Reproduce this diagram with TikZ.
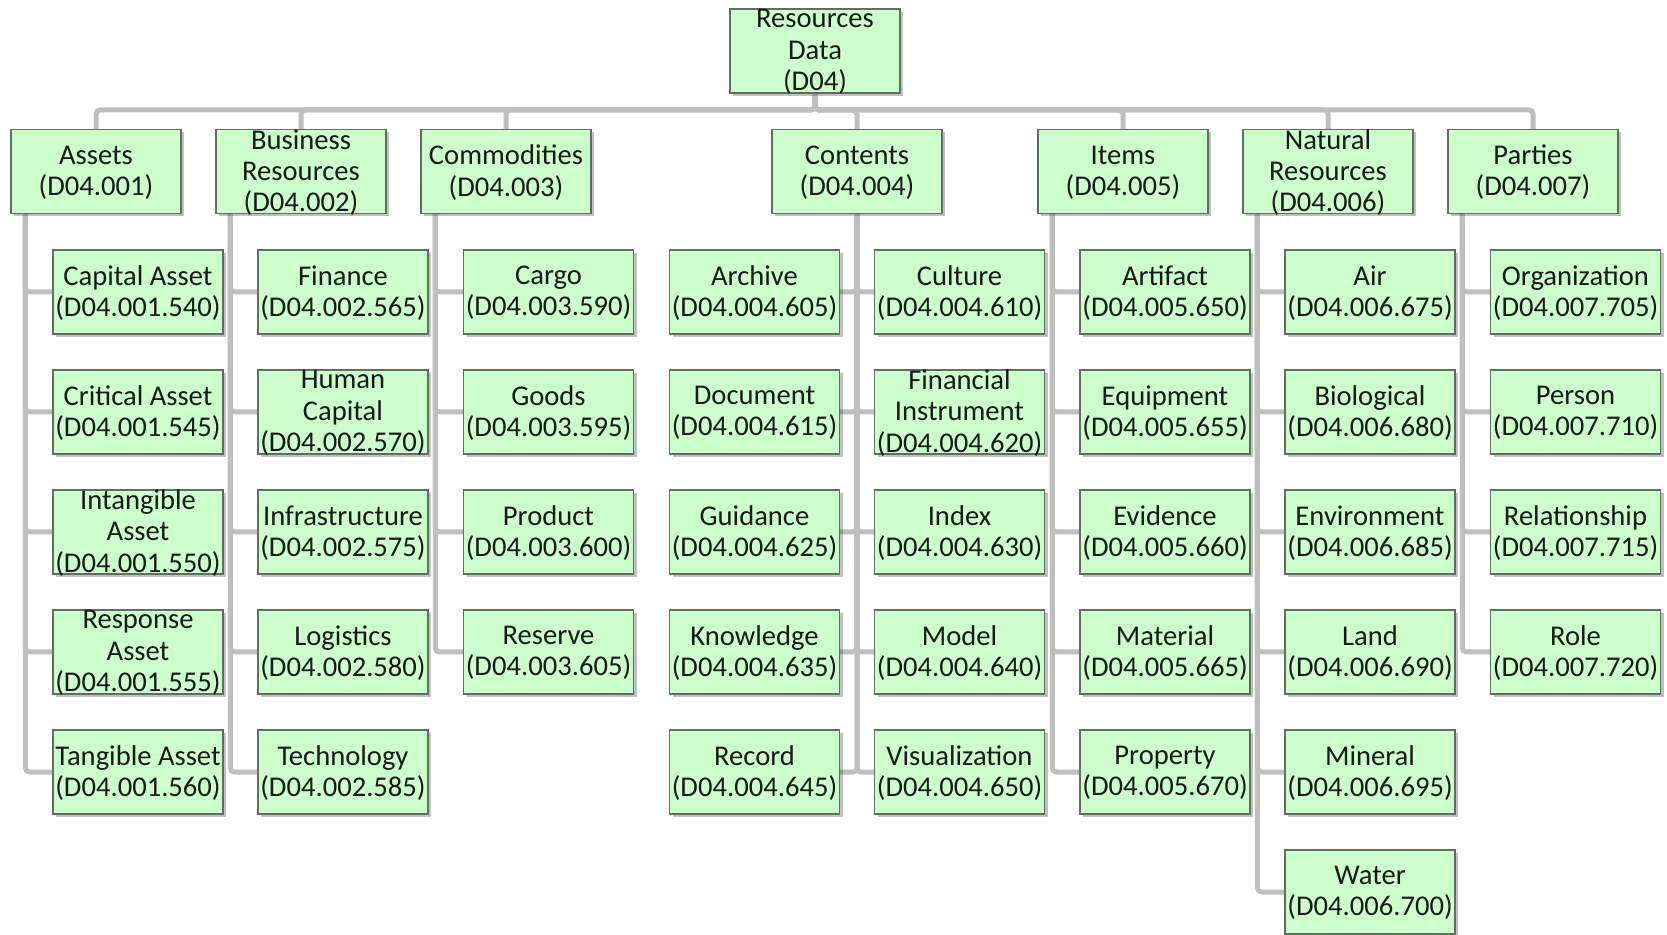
\documentclass[tikz,border=0pt]{standalone}
\usepackage{fontspec}
\setmainfont{Carlito}
\usetikzlibrary{shadows,backgrounds}
\definecolor{boxfill}{RGB}{204,255,204}
\definecolor{boxline}{RGB}{95,110,95}
\definecolor{linkgray}{RGB}{191,191,191}
\tikzset{
  box/.style={draw=boxline, line width=0.6pt, fill=boxfill,
    minimum width=85pt, minimum height=42pt, inner sep=0pt,
    drop shadow={shadow xshift=1.5pt, shadow yshift=-1.5pt, opacity=0.35, fill=black!70}},
  lbl/.style={inner sep=0pt, align=center, font=\fontsize{14.3}{15.6}\selectfont, text=black!90},
  link/.style={draw=linkgray, line width=2.5pt, rounded corners=2pt},
}
% box with its centred caption
\newcommand\orgbox[4]{%
  \node[box] (#1) at (#2,#3) {};
  \node[lbl] (#1-t) at ([yshift=-0.5pt]#1.center) {#4};}
\begin{document}
\begin{tikzpicture}[x=0.5pt, y=-0.5pt]
\useasboundingbox (0,0) rectangle (1667,935);

% root
\orgbox{root}{815}{51}{Resources\\Data\\(D04)}

% first level
\orgbox{assets}{96}{171.5}{Assets\\(D04.001)}
\orgbox{busres}{301}{171.5}{Business\\Resources\\(D04.002)}
\orgbox{commod}{506}{171.5}{Commodities\\(D04.003)}
\orgbox{contents}{857}{171.5}{Contents\\(D04.004)}
\orgbox{items}{1123}{171.5}{Items\\(D04.005)}
\orgbox{natres}{1328}{171.5}{Natural\\Resources\\(D04.006)}
\orgbox{parties}{1533}{171.5}{Parties\\(D04.007)}

% Assets
\orgbox{a1}{138}{292}{Capital Asset\\(D04.001.540)}
\orgbox{a2}{138}{412}{Critical Asset\\(D04.001.545)}
\orgbox{a3}{138}{532}{Intangible\\Asset\\(D04.001.550)}
\orgbox{a4}{138}{652}{Response\\Asset\\(D04.001.555)}
\orgbox{a5}{138}{772}{Tangible Asset\\(D04.001.560)}

% Business Resources
\orgbox{b1}{343}{292}{Finance\\(D04.002.565)}
\orgbox{b2}{343}{412}{Human\\Capital\\(D04.002.570)}
\orgbox{b3}{343}{532}{Infrastructure\\(D04.002.575)}
\orgbox{b4}{343}{652}{Logistics\\(D04.002.580)}
\orgbox{b5}{343}{772}{Technology\\(D04.002.585)}

% Commodities
\orgbox{c1}{548.5}{292}{Cargo\\(D04.003.590)}
\orgbox{c2}{548.5}{412}{Goods\\(D04.003.595)}
\orgbox{c3}{548.5}{532}{Product\\(D04.003.600)}
\orgbox{c4}{548.5}{652}{Reserve\\(D04.003.605)}

% Contents, left column
\orgbox{dl1}{754.5}{292}{Archive\\(D04.004.605)}
\orgbox{dl2}{754.5}{412}{Document\\(D04.004.615)}
\orgbox{dl3}{754.5}{532}{Guidance\\(D04.004.625)}
\orgbox{dl4}{754.5}{652}{Knowledge\\(D04.004.635)}
\orgbox{dl5}{754.5}{772}{Record\\(D04.004.645)}
% Contents, right column
\orgbox{dr1}{959.5}{292}{Culture\\(D04.004.610)}
\orgbox{dr2}{959.5}{412}{Financial\\Instrument\\(D04.004.620)}
\orgbox{dr3}{959.5}{532}{Index\\(D04.004.630)}
\orgbox{dr4}{959.5}{652}{Model\\(D04.004.640)}
\orgbox{dr5}{959.5}{772}{Visualization\\(D04.004.650)}

% Items
\orgbox{e1}{1165}{292}{Artifact\\(D04.005.650)}
\orgbox{e2}{1165}{412}{Equipment\\(D04.005.655)}
\orgbox{e3}{1165}{532}{Evidence\\(D04.005.660)}
\orgbox{e4}{1165}{652}{Material\\(D04.005.665)}
\orgbox{e5}{1165}{772}{Property\\(D04.005.670)}

% Natural Resources
\orgbox{f1}{1370}{292}{Air\\(D04.006.675)}
\orgbox{f2}{1370}{412}{Biological\\(D04.006.680)}
\orgbox{f3}{1370}{532}{Environment\\(D04.006.685)}
\orgbox{f4}{1370}{652}{Land\\(D04.006.690)}
\orgbox{f5}{1370}{772}{Mineral\\(D04.006.695)}
\orgbox{f6}{1370}{892}{Water\\(D04.006.700)}

% Parties
\orgbox{g1}{1575.5}{292}{Organization\\(D04.007.705)}
\orgbox{g2}{1575.5}{412}{Person\\(D04.007.710)}
\orgbox{g3}{1575.5}{532}{Relationship\\(D04.007.715)}
\orgbox{g4}{1575.5}{652}{Role\\(D04.007.720)}

% trunk tops just inside each parent's left edge
\coordinate (bar) at (0,110);
\foreach \p in {assets,busres,commod,items,natres,parties}
  \coordinate (\p-k) at ([xshift=7.5pt]\p.south west);

\begin{pgfonlayer}{background}
  % root to first level
  \foreach \p in {assets,busres,commod,contents,items,natres,parties}
    \draw[link] (root.south) -- (root.south |- bar) -| (\p.north);
  % left-hand trunks
  \foreach \k in {a1,a2,a3,a4,a5} \draw[link] (assets-k) |- (\k.west);
  \foreach \k in {b1,b2,b3,b4,b5} \draw[link] (busres-k) |- (\k.west);
  \foreach \k in {c1,c2,c3,c4} \draw[link] (commod-k) |- (\k.west);
  \foreach \k in {e1,e2,e3,e4,e5} \draw[link] (items-k) |- (\k.west);
  \foreach \k in {f1,f2,f3,f4,f5,f6} \draw[link] (natres-k) |- (\k.west);
  \foreach \k in {g1,g2,g3,g4} \draw[link] (parties-k) |- (\k.west);
  % central trunk of Contents, branching both ways
  \foreach \k in {dl1,dl2,dl3,dl4,dl5} \draw[link] (contents.south) |- (\k.east);
  \foreach \k in {dr1,dr2,dr3,dr4,dr5} \draw[link] (contents.south) |- (\k.west);
\end{pgfonlayer}
\end{tikzpicture}
\end{document}
